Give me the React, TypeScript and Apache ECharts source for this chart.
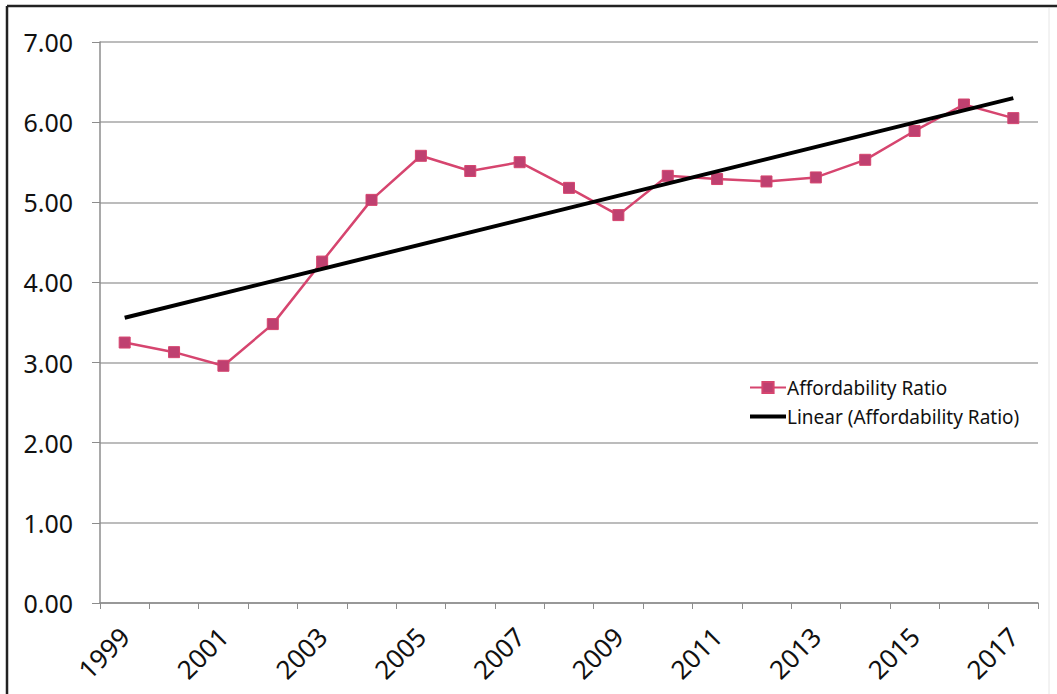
import React, { useEffect, useRef } from "react";
import * as echarts from "echarts";

const categories = ["1999","2000","2001","2002","2003","2004","2005","2006","2007","2008","2009","2010","2011","2012","2013","2014","2015","2016","2017"];
const ratioValues = [3.25,3.13,2.96,3.48,4.26,5.03,5.58,5.39,5.50,5.18,4.84,5.33,5.29,5.26,5.31,5.53,5.89,6.22,6.05];
const trendStart = 3.56;
const trendEnd = 6.30;
const yTicks = { min: 0, max: 7, interval: 1 };

export default function App() {
  const ref = useRef<HTMLDivElement>(null);
  useEffect(() => {
    if (!ref.current) return;
    const chart = echarts.init(ref.current, null, { renderer: "svg" });
    const font = "'Noto Sans', 'Open Sans', sans-serif";
    chart.setOption({
      animation: false,
      backgroundColor: "#ffffff",
      textStyle: { fontFamily: font },
      grid: { left: 100, right: 19, top: 42, bottom: 91, containLabel: false },
      legend: {
        orient: "vertical",
        left: 744,
        top: 373,
        itemGap: 10,
        itemWidth: 36,
        itemHeight: 14,
        textStyle: { fontFamily: font, fontSize: 19, color: "#111", padding: [0, 0, 0, -4] },
        data: [
          { name: "Affordability Ratio" },
          { name: "Linear (Affordability Ratio)", icon: "path://M0,0 H36 V4 H0 Z" },
        ],
      },
      xAxis: {
        type: "category",
        data: categories,
        boundaryGap: true,
        axisLine: { lineStyle: { color: "#8c8c8c", width: 1.5 } },
        axisTick: { show: true, length: 6, interval: 0, lineStyle: { color: "#8c8c8c" } },
        axisLabel: {
          interval: 1,
          rotate: 45,
          fontSize: 26,
          color: "#111",
          margin: 29,
          fontFamily: font,
        },
        splitLine: { show: false },
      },
      yAxis: {
        type: "value",
        min: yTicks.min,
        max: yTicks.max,
        interval: yTicks.interval,
        axisLine: { show: true, lineStyle: { color: "#8c8c8c", width: 1.5 } },
        axisTick: { show: true, length: 8, lineStyle: { color: "#8c8c8c" } },
        axisLabel: {
          formatter: (v: number) => v.toFixed(2),
          fontSize: 25,
          color: "#111",
          margin: 27,
          fontFamily: font,
        },
        splitLine: { show: true, lineStyle: { color: "#a6a6a6", width: 1.5 } },
      },
      series: [
        {
          name: "Affordability Ratio",
          type: "line",
          data: ratioValues,
          symbol: "rect",
          symbolSize: 11,
          lineStyle: { color: "#d6456f", width: 2.5 },
          itemStyle: { color: "#bf4070", borderColor: "#d6456f", borderWidth: 1 },
          z: 2,
        },
        {
          name: "Linear (Affordability Ratio)",
          type: "line",
          data: [[0, trendStart], [categories.length - 1, trendEnd]],
          symbol: "none",
          showSymbol: false,
          lineStyle: { color: "#000000", width: 4 },
          itemStyle: { color: "#000000" },
          z: 3,
        },
      ],
      graphic: [
        { type: "line", shape: { x1: 7, y1: 6, x2: 1057, y2: 6 }, style: { stroke: "#222", lineWidth: 2.5 } },
        { type: "line", shape: { x1: 7, y1: 6, x2: 7, y2: 694 }, style: { stroke: "#222", lineWidth: 2.5 } },
        { type: "line", shape: { x1: 1049, y1: 8, x2: 1049, y2: 694 }, style: { stroke: "#e6e6e6", lineWidth: 1 } },
      ],
    });
    return () => chart.dispose();
  }, []);
  return (
    <div
      ref={ref}
      style={{ position: "fixed", left: 0, top: 0, width: 1057, height: 694 }}
    />
  );
}
